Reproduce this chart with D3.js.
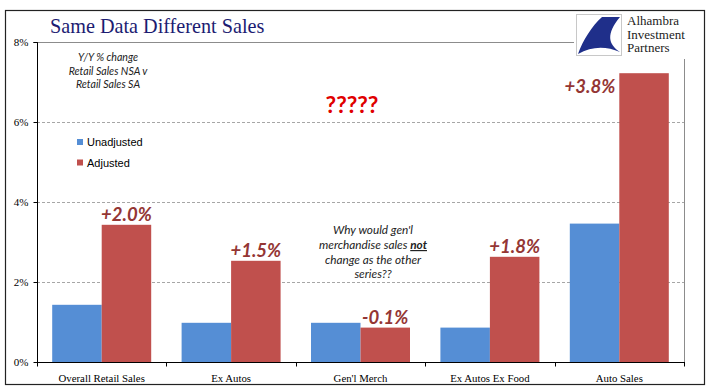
<!DOCTYPE html>
<html><head><meta charset="utf-8">
<script src="https://cdn.jsdelivr.net/npm/d3@7"></script>
<style>
body{margin:0;background:#fff;}
svg{display:block;}
</style></head>
<body>
<svg id="c" width="710" height="392"></svg>
<script>
const categories = ["Overall Retail Sales","Ex Autos","Gen'l Merch","Ex Autos Ex Food","Auto Sales"];
const seriesNames = ["Unadjusted","Adjusted"];
const unadjusted = [1.43, 0.98, 0.98, 0.86, 3.46];
const adjusted = [3.43, 2.53, 0.86, 2.63, 7.22];
const diffLabels = ["+2.0%","+1.5%","-0.1%","+1.8%","+3.8%"];
const yTicks = [0, 2, 4, 6, 8];
const colors = ["#558ED5", "#C0504D"];

const svg = d3.select("#c");
const M = {left:37, right:684, top:42, bottom:362};

// outer border
svg.append("rect").attr("x",5.5).attr("y",10.5).attr("width",699).attr("height",374)
  .attr("fill","none").attr("stroke","#222").attr("stroke-width",1.2);

const x = d3.scaleBand().domain(categories).range([M.left, M.right]).paddingInner(0.235).paddingOuter(0.1175);
const xs = d3.scaleBand().domain(seriesNames).range([0, x.bandwidth()]);
const y = d3.scaleLinear().domain([0, 8]).range([M.bottom, M.top]);

// gridlines
svg.append("g").selectAll("line").data(yTicks.filter(t => t > 0 && t < 8)).join("line")
  .attr("x1", M.left).attr("x2", M.right)
  .attr("y1", d => Math.round(y(d)) + 0.5).attr("y2", d => Math.round(y(d)) + 0.5)
  .attr("stroke", "#a6a6a6").attr("stroke-dasharray", "3,2");
// plot frame top/right
svg.append("line").attr("x1",M.left).attr("x2",M.right).attr("y1",M.top+0.5).attr("y2",M.top+0.5).attr("stroke","#8c8c8c");
svg.append("line").attr("x1",M.right+0.5).attr("x2",M.right+0.5).attr("y1",M.top).attr("y2",M.bottom).attr("stroke","#8c8c8c");

// bars
const groups = svg.append("g").selectAll("g").data(categories).join("g")
  .attr("transform", d => `translate(${x(d)},0)`);
groups.selectAll("rect").data((d, i) => [unadjusted[i], adjusted[i]].map((v, j) => ({v, s: seriesNames[j], j})))
  .join("rect")
  .attr("x", d => xs(d.s)).attr("width", xs.bandwidth())
  .attr("y", d => y(d.v)).attr("height", d => y(0) - y(d.v))
  .attr("fill", d => colors[d.j]);

// y axis
const yAxis = d3.axisLeft(y).tickValues(yTicks).tickFormat(d => d + "%").tickSize(4).tickPadding(5);
const ga = svg.append("g").attr("transform", `translate(${M.left + 0.5},0)`).call(yAxis);
ga.select(".domain").attr("stroke", "#000").attr("d", `M-4,${M.top}.5H0V${M.bottom}`);
ga.selectAll(".tick line").attr("stroke", "#000");
ga.selectAll("text").attr("font-family", "Liberation Serif").attr("font-size", 11).attr("fill", "#000");

// x axis
const gx = svg.append("g").attr("transform", `translate(0,${M.bottom + 0.5})`);
gx.append("line").attr("x1", M.left).attr("x2", M.right + 1).attr("stroke", "#000");
const bounds = categories.map(c => x(c) - x.step() * x.paddingInner() / 2).concat([M.right]);
gx.selectAll("line.t").data(bounds).join("line").attr("class", "t")
  .attr("x1", d => Math.round(d) + 0.5).attr("x2", d => Math.round(d) + 0.5).attr("y1", 0).attr("y2", 4).attr("stroke", "#000");
gx.selectAll("text").data(categories).join("text")
  .attr("x", d => x(d) + x.bandwidth() / 2).attr("y", 19)
  .attr("text-anchor", "middle").attr("font-family", "Liberation Serif").attr("font-size", 10.8).attr("fill", "#000")
  .text(d => d);

// data labels
svg.append("g").selectAll("text").data(categories).join("text")
  .attr("x", (d, i) => i === 4 ? x(d) + xs("Adjusted") - 4 : x(d) + xs("Adjusted") + xs.bandwidth() / 2)
  .attr("y", (d, i) => i === 4 ? y(adjusted[i]) + 20 : y(adjusted[i]) - 4)
  .attr("text-anchor", (d, i) => i === 4 ? "end" : "middle")
  .attr("font-family", "Lato").attr("font-style", "italic").attr("font-weight", "bold")
  .attr("font-size", 18.5).attr("fill", "#943634")
  .text((d, i) => diffLabels[i]);

// title
svg.append("text").attr("x", 50).attr("y", 33).attr("font-family", "Liberation Serif")
  .attr("font-size", 20.2).attr("fill", "#1c1c72").text("Same Data Different Sales");

// subtitle note
const note = svg.append("text").attr("font-family", "Lato").attr("font-style", "italic")
  .attr("font-size", 10.6).attr("fill", "#222").attr("text-anchor", "middle");
["Y/Y % change", "Retail Sales NSA v", "Retail Sales SA"].forEach((t, i) =>
  note.append("tspan").attr("x", 108).attr("y", 61 + i * 13.5).text(t));

// legend
const leg = svg.append("g");
seriesNames.forEach((s, i) => {
  leg.append("rect").attr("x", 77).attr("y", 139 + i * 20.5).attr("width", 6).attr("height", 6).attr("fill", colors[i]);
  leg.append("text").attr("x", 87).attr("y", 146 + i * 20.5).attr("font-family", "Liberation Sans")
    .attr("font-size", 11).attr("fill", "#000").text(s);
});

// ?????
svg.append("text").attr("x", 352).attr("y", 113).attr("text-anchor", "middle")
  .attr("font-family", "Lato").attr("font-weight", "bold").attr("font-size", 23).attr("fill", "#e00000")
  .text("?????");

// question annotation
const q = svg.append("text").attr("font-family", "Lato").attr("font-style", "italic")
  .attr("font-size", 11.8).attr("fill", "#222").attr("text-anchor", "middle");
q.append("tspan").attr("x", 373).attr("y", 234).text("Why would gen'l");
const l2 = q.append("tspan").attr("x", 373).attr("y", 249);
l2.append("tspan").text("merchandise sales ");
l2.append("tspan").attr("font-weight", "bold").attr("text-decoration", "underline").text("not");
q.append("tspan").attr("x", 373).attr("y", 263.5).text("change as the other");
q.append("tspan").attr("x", 373).attr("y", 278).text("series??");

// logo
const lg = svg.append("g");
lg.append("rect").attr("x", 574).attr("y", 13).attr("width", 116).attr("height", 46).attr("fill", "#fff");
lg.append("rect").attr("x", 576.5).attr("y", 14.5).attr("width", 45).attr("height", 41).attr("fill", "#fff").attr("stroke", "#c8c8c8");
lg.append("path").attr("d", "M620,17 L602,17 C592,26 583,40 578,54 C592,46 606,46 620,52 C608,44 606,34 620,17 Z").attr("fill", "#1f2f8a");
["Alhambra", "Investment", "Partners"].forEach((t, i) =>
  lg.append("text").attr("x", 627).attr("y", 25 + i * 13.5).attr("font-family", "Liberation Serif")
    .attr("font-size", 13).attr("fill", "#222").text(t));
</script>
</body></html>
